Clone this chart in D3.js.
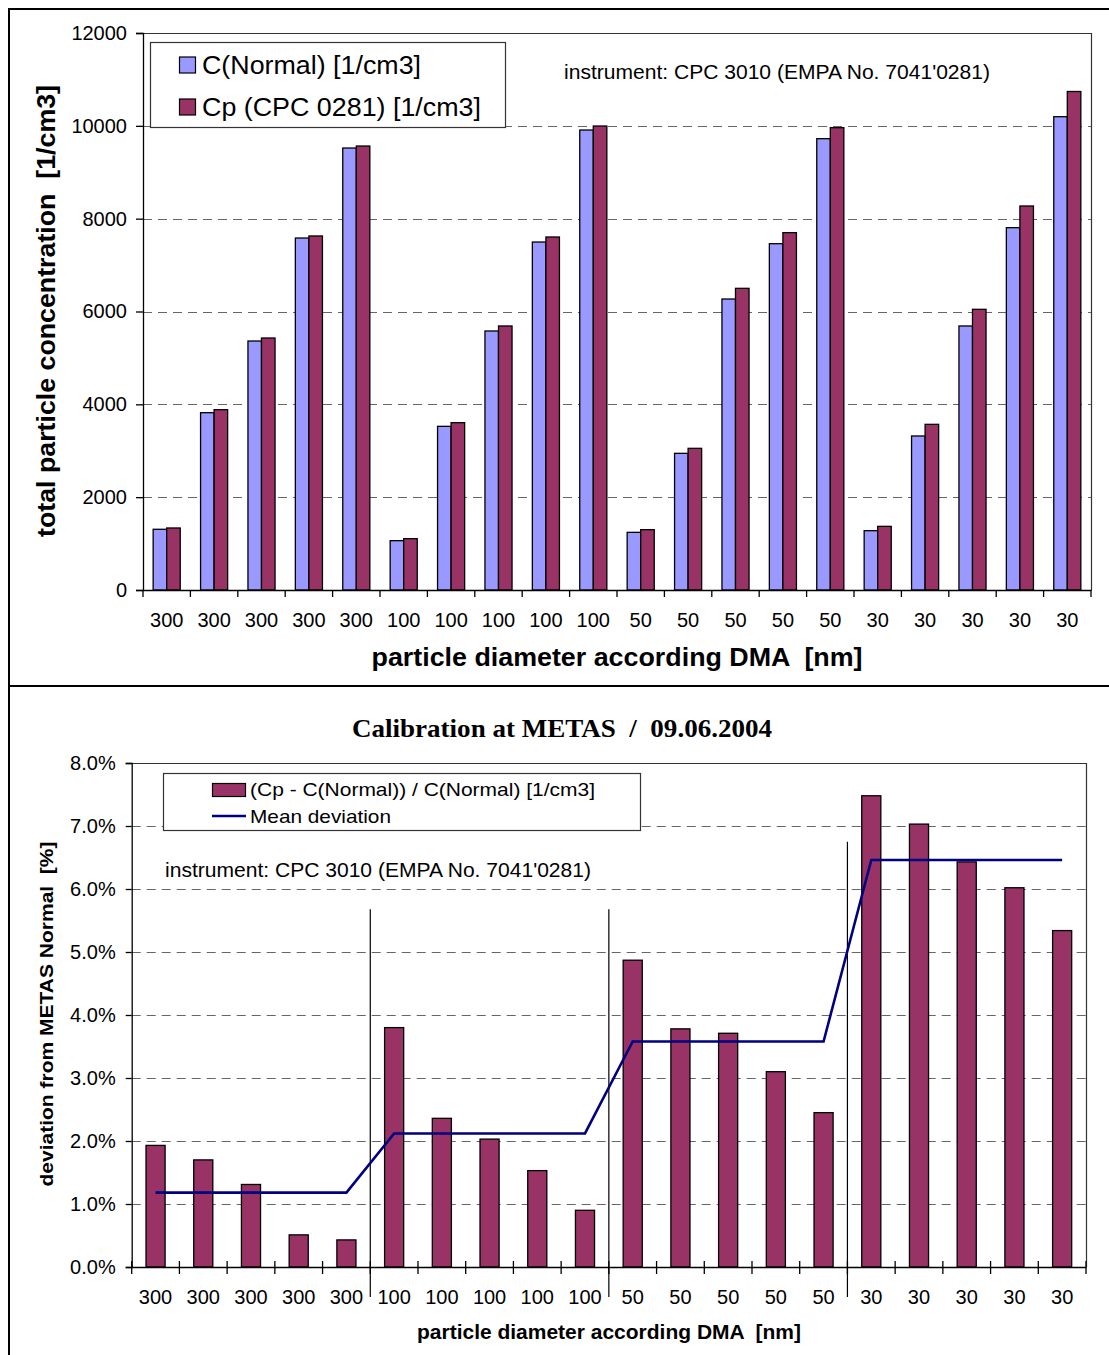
<!DOCTYPE html>
<html>
<head>
<meta charset="utf-8">
<script src="https://cdn.jsdelivr.net/npm/d3@7"></script>
<style>
  body { margin: 0; background: #fff; }
  svg { display: block; }
  text { font-family: "Liberation Sans", Arial, sans-serif; fill: #000; white-space: pre; }
</style>
</head>
<body>
<svg id="chart" width="1109" height="1355" xml:space="preserve"></svg>
<script>
// ---------- DATA ----------
const categories = ["300","300","300","300","300","100","100","100","100","100","50","50","50","50","50","30","30","30","30","30"];
const cNormal = [1308, 3820, 5364, 7583, 9522, 1063, 3526, 5580, 7497, 9910, 1242, 2944, 6269, 7461, 9723, 1278, 3318, 5688, 7806, 10197];
const cpValues = [1336, 3885, 5429, 7627, 9565, 1106, 3605, 5688, 7605, 9996, 1300, 3052, 6499, 7699, 9960, 1371, 3569, 6047, 8273, 10740];
const topTicks = [0, 2000, 4000, 6000, 8000, 10000, 12000];
const topSeriesNames = ["C(Normal) [1/cm3]", "Cp (CPC 0281) [1/cm3]"];

const deviation = [1.93, 1.70, 1.31, 0.51, 0.43, 3.80, 2.36, 2.03, 1.53, 0.90, 4.87, 3.78, 3.71, 3.10, 2.45, 7.48, 7.03, 6.43, 6.02, 5.34];
const meanDeviation = [1.18, 1.18, 1.18, 1.18, 1.18, 2.12, 2.12, 2.12, 2.12, 2.12, 3.58, 3.58, 3.58, 3.58, 3.58, 6.46, 6.46, 6.46, 6.46, 6.46];
const bottomTicks = [0, 1, 2, 3, 4, 5, 6, 7, 8];
const groupSeparators = [5, 10, 15];           // category boundaries
const separatorTops = [5.68, 5.68, 6.75];      // top of separator lines (% units)
const bottomSeriesNames = ["(Cp - C(Normal)) / C(Normal) [1/cm3]", "Mean deviation"];
const instrumentText = "instrument: CPC 3010 (EMPA No. 7041'0281)";
const bottomTitle = "Calibration at METAS  /  09.06.2004";

// ---------- STYLE ----------
const BLUE = "#9999FF", RED = "#993366", NAVY = "#000080", GRID = "#666";
const svg = d3.select("#chart");
const idx = d3.range(categories.length);

// outer frame
svg.append("line").attr("x1", 8).attr("x2", 1109).attr("y1", 9).attr("y2", 9).attr("stroke", "#000").attr("stroke-width", 2);
svg.append("line").attr("x1", 9).attr("x2", 9).attr("y1", 8).attr("y2", 1355).attr("stroke", "#000").attr("stroke-width", 2);
svg.append("line").attr("x1", 8).attr("x2", 1109).attr("y1", 686).attr("y2", 686).attr("stroke", "#000").attr("stroke-width", 2);

// ================= TOP CHART =================
(function() {
  const L = 143, R = 1091, T = 33, B = 590;
  const x = d3.scaleBand().domain(idx).range([L, R]).paddingInner(3/7).paddingOuter(1.5/7);
  const xs = d3.scaleBand().domain([0, 1]).range([0, x.bandwidth()]);
  const y = d3.scaleLinear().domain([0, 12000]).range([B, T]);
  const g = svg.append("g");

  g.selectAll(".grid").data(topTicks.filter(v => v > 0 && v < 12000)).enter().append("line")
    .attr("x1", L).attr("x2", R).attr("y1", d => Math.round(y(d)) + 0.5).attr("y2", d => Math.round(y(d)) + 0.5)
    .attr("stroke", GRID).attr("stroke-width", 1.2).attr("stroke-dasharray", "9,6");

  g.append("path").attr("d", `M${L},${y(12000)+0.5}H${R+0.5}V${B}`).attr("fill", "none").attr("stroke", "#333").attr("stroke-width", 1.2);

  const series = [cNormal, cpValues];
  const colors = [BLUE, RED];
  series.forEach((vals, s) => {
    g.selectAll(".bar" + s).data(idx).enter().append("rect")
      .attr("x", i => x(i) + xs(s))
      .attr("y", i => y(vals[i]))
      .attr("width", xs.bandwidth())
      .attr("height", i => B - y(vals[i]))
      .attr("fill", colors[s]).attr("stroke", "#000").attr("stroke-width", 1.3);
  });

  const ya = g.append("g").attr("transform", `translate(${L},0)`)
    .call(d3.axisLeft(y).tickValues(topTicks).tickSize(7).tickPadding(9).tickFormat(d3.format("d")));
  ya.selectAll("text").style("font-size", "20px").attr("font-family", "Liberation Sans, Arial, sans-serif");
  ya.selectAll("line,path").attr("stroke", "#000").attr("stroke-width", 1.3);

  const xa = g.append("g").attr("transform", `translate(0,${B})`)
    .call(d3.axisBottom(x).tickSize(0).tickPadding(23).tickFormat(i => categories[i]));
  xa.select(".domain").attr("stroke", "#000").attr("stroke-width", 1.5);
  xa.selectAll("text").style("font-size", "20px").attr("font-family", "Liberation Sans, Arial, sans-serif");
  g.selectAll(".xt").data(d3.range(categories.length + 1)).enter().append("line")
    .attr("x1", i => x.range()[0] + i * x.step()).attr("x2", i => x.range()[0] + i * x.step())
    .attr("y1", B).attr("y2", B + 7).attr("stroke", "#000").attr("stroke-width", 1.3);

  svg.append("text").attr("x", 617).attr("y", 666).attr("text-anchor", "middle")
    .attr("font-weight", "bold").style("font-size", "25px").attr("textLength", 491).attr("lengthAdjust", "spacingAndGlyphs")
    .text("particle diameter according DMA  [nm]");
  svg.append("text").attr("transform", "translate(55,311) rotate(-90)").attr("text-anchor", "middle")
    .attr("font-weight", "bold").style("font-size", "25px").attr("textLength", 452).attr("lengthAdjust", "spacingAndGlyphs")
    .text("total particle concentration  [1/cm3]");

  svg.append("text").attr("x", 564).attr("y", 79).style("font-size", "20px")
    .attr("textLength", 426).attr("lengthAdjust", "spacingAndGlyphs").text(instrumentText);

  const lg = svg.append("g");
  lg.append("rect").attr("x", 150.5).attr("y", 42.5).attr("width", 355).attr("height", 85)
    .attr("fill", "#fff").attr("stroke", "#333").attr("stroke-width", 1.2);
  topSeriesNames.forEach((name, s) => {
    const cy = 65 + s * 42;
    lg.append("rect").attr("x", 179.5).attr("y", cy - 8).attr("width", 16).attr("height", 16)
      .attr("fill", colors[s]).attr("stroke", "#000").attr("stroke-width", 1.2);
    lg.append("text").attr("x", 202).attr("y", cy + 9).style("font-size", "25px")
      .attr("textLength", s === 0 ? 219 : 279).attr("lengthAdjust", "spacingAndGlyphs").text(name);
  });
})();

// ================= BOTTOM CHART =================
(function() {
  const L = 131.7, R = 1086, T = 763, B = 1267;
  const x = d3.scaleBand().domain(idx).range([L, R]).paddingInner(0.6).paddingOuter(0.3);
  const y = d3.scaleLinear().domain([0, 8]).range([B, T]);
  const g = svg.append("g");

  svg.append("text").attr("x", 562).attr("y", 737).attr("text-anchor", "middle")
    .style("font-family", "'Liberation Serif', 'Times New Roman', serif")
    .attr("font-weight", "bold").style("font-size", "25px").attr("textLength", 420).attr("lengthAdjust", "spacingAndGlyphs")
    .text(bottomTitle);

  g.selectAll(".grid").data(bottomTicks.filter(v => v > 0 && v < 8)).enter().append("line")
    .attr("x1", L).attr("x2", R).attr("y1", d => Math.round(y(d)) + 0.5).attr("y2", d => Math.round(y(d)) + 0.5)
    .attr("stroke", GRID).attr("stroke-width", 1.2).attr("stroke-dasharray", "9,6");

  g.append("path").attr("d", `M${L},${y(8)+0.5}H${R+0.5}V${B}`).attr("fill", "none").attr("stroke", "#333").attr("stroke-width", 1.2);

  g.selectAll(".dev").data(idx).enter().append("rect")
    .attr("x", i => x(i)).attr("y", i => y(deviation[i]))
    .attr("width", x.bandwidth()).attr("height", i => B - y(deviation[i]))
    .attr("fill", RED).attr("stroke", "#000").attr("stroke-width", 1.3);

  const bx = i => x.range()[0] + i * x.step();
  g.selectAll(".sep").data(groupSeparators).enter().append("line")
    .attr("x1", i => bx(i)).attr("x2", i => bx(i))
    .attr("y1", (d, k) => y(separatorTops[k])).attr("y2", B + 30)
    .attr("stroke", "#000").attr("stroke-width", 1.2);

  g.append("path").datum(idx)
    .attr("d", d3.line().x(i => x(i) + x.bandwidth() / 2).y(i => y(meanDeviation[i])))
    .attr("fill", "none").attr("stroke", NAVY).attr("stroke-width", 2.6);

  const ya = g.append("g").attr("transform", `translate(${L},0)`)
    .call(d3.axisLeft(y).tickValues(bottomTicks).tickSize(6).tickPadding(10).tickFormat(d => d.toFixed(1) + "%"));
  ya.selectAll("text").style("font-size", "20px").attr("font-family", "Liberation Sans, Arial, sans-serif");
  ya.selectAll("line,path").attr("stroke", "#000").attr("stroke-width", 1.3);

  const xa = g.append("g").attr("transform", `translate(0,${B})`)
    .call(d3.axisBottom(x).tickSize(0).tickPadding(23).tickFormat(i => categories[i]));
  xa.select(".domain").attr("stroke", "#000").attr("stroke-width", 1.5);
  xa.selectAll("text").style("font-size", "20px").attr("font-family", "Liberation Sans, Arial, sans-serif");
  g.selectAll(".xt").data(d3.range(categories.length + 1)).enter().append("line")
    .attr("x1", i => bx(i)).attr("x2", i => bx(i))
    .attr("y1", B - 6).attr("y2", B + 7).attr("stroke", "#000").attr("stroke-width", 1.3);

  svg.append("text").attr("x", 609).attr("y", 1339).attr("text-anchor", "middle")
    .attr("font-weight", "bold").style("font-size", "20px").attr("textLength", 384).attr("lengthAdjust", "spacingAndGlyphs")
    .text("particle diameter according DMA  [nm]");
  svg.append("text").attr("transform", "translate(53,1014) rotate(-90)").attr("text-anchor", "middle")
    .attr("font-weight", "bold").style("font-size", "19px").attr("textLength", 345).attr("lengthAdjust", "spacingAndGlyphs")
    .text("deviation from METAS Normal  [%]");

  svg.append("text").attr("x", 165).attr("y", 877).style("font-size", "20px")
    .attr("textLength", 426).attr("lengthAdjust", "spacingAndGlyphs").text(instrumentText);

  const lg = svg.append("g");
  lg.append("rect").attr("x", 163.5).attr("y", 773.5).attr("width", 477).attr("height", 57)
    .attr("fill", "#fff").attr("stroke", "#333").attr("stroke-width", 1.2);
  lg.append("rect").attr("x", 212.5).attr("y", 783.5).attr("width", 33).attr("height", 13)
    .attr("fill", RED).attr("stroke", "#000").attr("stroke-width", 1.2);
  lg.append("line").attr("x1", 212).attr("x2", 246).attr("y1", 816).attr("y2", 816)
    .attr("stroke", NAVY).attr("stroke-width", 2.6);
  lg.append("text").attr("x", 250).attr("y", 796).style("font-size", "19px")
    .attr("textLength", 345).attr("lengthAdjust", "spacingAndGlyphs").text(bottomSeriesNames[0]);
  lg.append("text").attr("x", 250).attr("y", 823).style("font-size", "19px")
    .attr("textLength", 141).attr("lengthAdjust", "spacingAndGlyphs").text(bottomSeriesNames[1]);
})();
</script>
</body>
</html>
